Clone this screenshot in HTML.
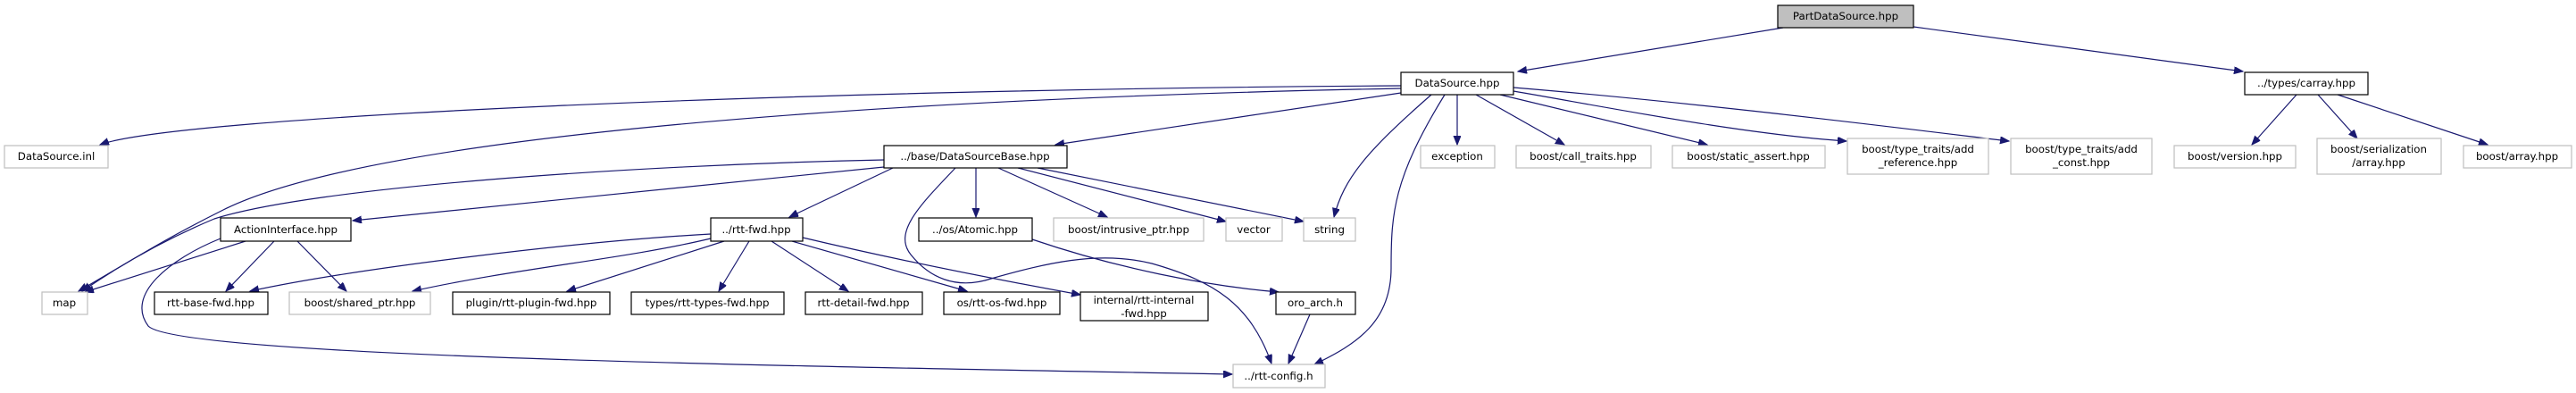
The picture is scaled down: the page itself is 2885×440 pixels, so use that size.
<!DOCTYPE html>
<html><head><meta charset="utf-8"><style>
html,body{margin:0;padding:0;background:#fff;}
svg{display:block;}
text{font-family:"DejaVu Sans","Liberation Sans",sans-serif;font-size:11.8px;fill:#000;text-anchor:middle;}
.n{fill:#fff;stroke:#000;stroke-width:1.2;}
.g{fill:#fff;stroke:#bfbfbf;stroke-width:1.2;}
.e{fill:none;stroke:#191970;stroke-width:1.2;}
</style></head><body>
<svg width="2885" height="440" viewBox="0 0 2885 440" xmlns="http://www.w3.org/2000/svg">
<defs><marker id="a" markerUnits="userSpaceOnUse" markerWidth="12" markerHeight="10" refX="10" refY="4" orient="auto"><path d="M0,0 L10,4 L0,8 z" fill="#191970" stroke="#191970"/></marker></defs>
<g marker-end="url(#a)">
<path class="e" d="M1997,31 L1700,80"/>
<path class="e" d="M2143,30 L2512,80"/>
<path class="e" d="M1569,96 C900,100 200,130 112,162"/>
<path class="e" d="M1569,99 C1000,110 420,150 250,235 C180,270 150,290 88,326"/>
<path class="e" d="M1569,104 L1182,162"/>
<path class="e" d="M1603,106 C1530,170 1505,200 1494,243"/>
<path class="e" d="M1618,106 C1560,200 1558,240 1558,300 C1558,360 1520,385 1472,408"/>
<path class="e" d="M1632,106 L1632,162"/>
<path class="e" d="M1653,106 L1752,162"/>
<path class="e" d="M1680,106 L1912,162"/>
<path class="e" d="M1695,102 C1800,120 1950,150 2068,158"/>
<path class="e" d="M1695,98 C1900,115 2100,140 2250,158"/>
<path class="e" d="M2572,106 L2522,162"/>
<path class="e" d="M2596,106 L2640,155"/>
<path class="e" d="M2618,106 L2786,162"/>
<path class="e" d="M990,187 L395,247"/>
<path class="e" d="M990,179 C700,185 350,210 240,245 C180,270 130,300 92,326"/>
<path class="e" d="M1000,188 L884,243"/>
<path class="e" d="M1093,188 L1093,243"/>
<path class="e" d="M1118,188 L1240,243"/>
<path class="e" d="M1140,188 L1373,248"/>
<path class="e" d="M1162,188 L1460,248"/>
<path class="e" d="M1070,188 C1030,230 1000,260 1020,285 C1040,310 1070,325 1110,312 C1170,295 1230,280 1290,295 C1360,315 1400,340 1424,407"/>
<path class="e" d="M1156,268 C1250,300 1350,320 1432,327"/>
<path class="e" d="M1467,352 L1443,407"/>
<path class="e" d="M275,270 L95,327"/>
<path class="e" d="M307,270 L253,326"/>
<path class="e" d="M333,270 L388,326"/>
<path class="e" d="M247,267 C190,290 140,330 166,365 C200,400 900,410 1380,419"/>
<path class="e" d="M796,262 C650,270 400,300 280,326"/>
<path class="e" d="M796,267 C700,290 580,300 462,326"/>
<path class="e" d="M811,270 L635,326"/>
<path class="e" d="M839,270 L805,326"/>
<path class="e" d="M864,270 L950,326"/>
<path class="e" d="M887,270 L1083,326"/>
<path class="e" d="M899,266 C1000,290 1100,310 1210,330"/>
</g>
<rect x="1991" y="6" width="152" height="25" fill="#bfbfbf" stroke="#000" stroke-width="1.2"/><text x="2067" y="22">PartDataSource.hpp</text>
<rect class="n" x="1569" y="81" width="126" height="25"/><text x="1632" y="97">DataSource.hpp</text>
<rect class="n" x="2514" y="81" width="138" height="25"/><text x="2583" y="97">../types/carray.hpp</text>
<rect class="g" x="5" y="163" width="116" height="25"/><text x="63" y="179">DataSource.inl</text>
<rect class="n" x="990" y="163" width="205" height="25"/><text x="1092" y="179">../base/DataSourceBase.hpp</text>
<rect class="g" x="1591" y="163" width="83" height="25"/><text x="1632" y="179">exception</text>
<rect class="g" x="1698" y="163" width="151" height="25"/><text x="1773" y="179">boost/call_traits.hpp</text>
<rect class="g" x="1873" y="163" width="171" height="25"/><text x="1958" y="179">boost/static_assert.hpp</text>
<rect class="g" x="2069" y="155" width="158" height="40"/><text x="2148" y="171">boost/type_traits/add</text><text x="2148" y="186">_reference.hpp</text>
<rect class="g" x="2252" y="155" width="158" height="40"/><text x="2331" y="171">boost/type_traits/add</text><text x="2331" y="186">_const.hpp</text>
<rect class="g" x="2435" y="163" width="136" height="25"/><text x="2503" y="179">boost/version.hpp</text>
<rect class="g" x="2595" y="155" width="139" height="40"/><text x="2664" y="171">boost/serialization</text><text x="2664" y="186">/array.hpp</text>
<rect class="g" x="2759" y="163" width="121" height="25"/><text x="2819" y="179">boost/array.hpp</text>
<rect class="n" x="247" y="244" width="146" height="26"/><text x="320" y="261">ActionInterface.hpp</text>
<rect class="n" x="796" y="244" width="103" height="26"/><text x="847" y="261">../rtt-fwd.hpp</text>
<rect class="n" x="1029" y="244" width="127" height="26"/><text x="1092" y="261">../os/Atomic.hpp</text>
<rect class="g" x="1180" y="244" width="168" height="26"/><text x="1264" y="261">boost/intrusive_ptr.hpp</text>
<rect class="g" x="1373" y="244" width="63" height="26"/><text x="1404" y="261">vector</text>
<rect class="g" x="1460" y="244" width="58" height="26"/><text x="1489" y="261">string</text>
<rect class="g" x="47" y="327" width="51" height="25"/><text x="72" y="343">map</text>
<rect class="n" x="173" y="327" width="127" height="25"/><text x="236" y="343">rtt-base-fwd.hpp</text>
<rect class="g" x="324" y="327" width="158" height="25"/><text x="403" y="343">boost/shared_ptr.hpp</text>
<rect class="n" x="507" y="327" width="176" height="25"/><text x="595" y="343">plugin/rtt-plugin-fwd.hpp</text>
<rect class="n" x="707" y="327" width="171" height="25"/><text x="792" y="343">types/rtt-types-fwd.hpp</text>
<rect class="n" x="902" y="327" width="131" height="25"/><text x="967" y="343">rtt-detail-fwd.hpp</text>
<rect class="n" x="1057" y="327" width="130" height="25"/><text x="1122" y="343">os/rtt-os-fwd.hpp</text>
<rect class="n" x="1210" y="327" width="143" height="32"/><text x="1281" y="340">internal/rtt-internal</text><text x="1281" y="355">-fwd.hpp</text>
<rect class="n" x="1429" y="327" width="89" height="25"/><text x="1473" y="343">oro_arch.h</text>
<rect class="g" x="1381" y="408" width="103" height="26"/><text x="1432" y="425">../rtt-config.h</text>
</svg>
</body></html>
